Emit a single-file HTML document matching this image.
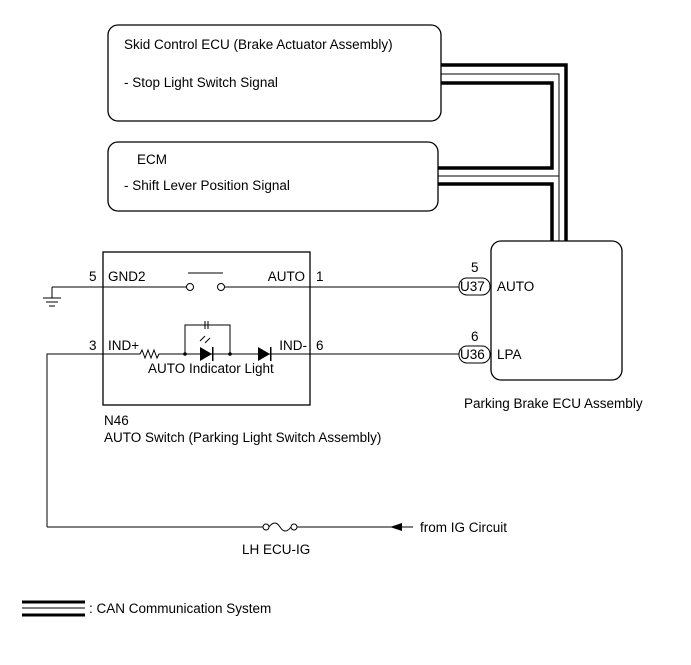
<!DOCTYPE html>
<html><head><style>
body{margin:0;background:#fff;}
svg text{font-family:"Liberation Sans",Arial,sans-serif;font-size:13.5px;fill:#000;}
</style></head><body>
<svg width="691" height="660" viewBox="0 0 691 660" xmlns="http://www.w3.org/2000/svg">
<g fill="none" stroke="#000">
<polyline points="441,65 566,65 566,241" stroke-width="3.5"/>
<polyline points="441,74 559,74 559,241" stroke-width="1"/>
<polyline points="441,83 552,83 552,168 438,168" stroke-width="3.5"/>
<line x1="438" y1="176" x2="559" y2="176" stroke-width="1"/>
<polyline points="438,184 552,184 552,241" stroke-width="3.5"/>
</g>
<rect x="108" y="25" width="333" height="96" rx="10" fill="#fff" stroke="#000" stroke-width="1.3"/>
<rect x="108" y="142" width="330" height="69" rx="10" fill="#fff" stroke="#000" stroke-width="1.3"/>
<rect x="491" y="241" width="131" height="139" rx="10" fill="#fff" stroke="#000" stroke-width="1.3"/>
<rect x="103" y="252" width="207" height="153" fill="none" stroke="#000" stroke-width="1.3"/>
<text x="124" y="49">Skid Control ECU (Brake Actuator Assembly)</text>
<text x="124" y="87">- Stop Light Switch Signal</text>
<text x="137" y="164">ECM</text>
<text x="124" y="190">- Shift Lever Position Signal</text>
<g fill="none" stroke="#000" stroke-width="1">
<line x1="52" y1="287" x2="187" y2="287"/>
<circle cx="190" cy="287" r="3.5" fill="#fff"/>
<circle cx="221" cy="287" r="3.5" fill="#fff"/>
<line x1="188" y1="273" x2="223" y2="273"/>
<line x1="224" y1="287" x2="459" y2="287"/>
<line x1="52" y1="287" x2="52" y2="298"/>
<line x1="43" y1="298" x2="61" y2="298"/>
<line x1="46" y1="302" x2="58" y2="302"/>
<line x1="49" y1="306" x2="55" y2="306"/>
<polyline points="47,527 47,354 140,354 142,350 145,358 148,350 151,358 154,350 157,358 159,354 459,354"/>
<polyline points="185,354 185,325 230,325 230,354"/>
<line x1="205" y1="321" x2="205" y2="329"/><line x1="208" y1="321" x2="208" y2="329"/>
<line x1="47" y1="527" x2="263" y2="527"/>
<circle cx="266" cy="527" r="3" fill="#fff"/>
<path d="M269,527 Q275,519 280,527 Q285,535 291,527"/>
<circle cx="294" cy="527" r="3" fill="#fff"/>
<line x1="297" y1="527" x2="413" y2="527"/>
<rect x="459" y="278" width="31" height="17" rx="8" fill="#fff"/>
<rect x="459" y="346" width="31" height="17" rx="8" fill="#fff"/>
<line x1="200" y1="341" x2="205" y2="336"/><line x1="205" y1="343" x2="210" y2="338"/>
</g>
<circle cx="185" cy="354" r="1.8"/><circle cx="230" cy="354" r="1.8"/>
<polygon points="200,347 200,361 212,354"/><rect x="212" y="347" width="1.5" height="14"/>
<polygon points="258,347 258,361 270,354"/><rect x="270" y="347" width="1.5" height="14"/>
<polygon points="390,527 402,523 402,531"/>
<text x="89" y="281">5</text><text x="108" y="281">GND2</text>
<text x="305" y="281" text-anchor="end">AUTO</text><text x="316" y="281">1</text>
<text x="89" y="350">3</text><text x="108" y="350">IND+</text>
<text x="307" y="350" text-anchor="end">IND-</text><text x="316" y="350">6</text>
<text x="148" y="373">AUTO Indicator Light</text>
<text x="104" y="425">N46</text>
<text x="104" y="442">AUTO Switch (Parking Light Switch Assembly)</text>
<text x="471" y="272">5</text><text x="471" y="341">6</text>
<text x="460" y="291">U37</text><text x="460" y="359">U36</text>
<text x="497" y="291">AUTO</text><text x="497" y="359">LPA</text>
<text x="464" y="408">Parking Brake ECU Assembly</text>
<text x="420" y="532">from IG Circuit</text>
<text x="242" y="554">LH ECU-IG</text>
<line x1="22" y1="602" x2="85" y2="602" stroke="#000" stroke-width="3"/>
<line x1="22" y1="608" x2="85" y2="608" stroke="#000" stroke-width="1"/>
<line x1="22" y1="615" x2="85" y2="615" stroke="#000" stroke-width="3"/>
<text x="89" y="613">: CAN Communication System</text>
</svg>
</body></html>
